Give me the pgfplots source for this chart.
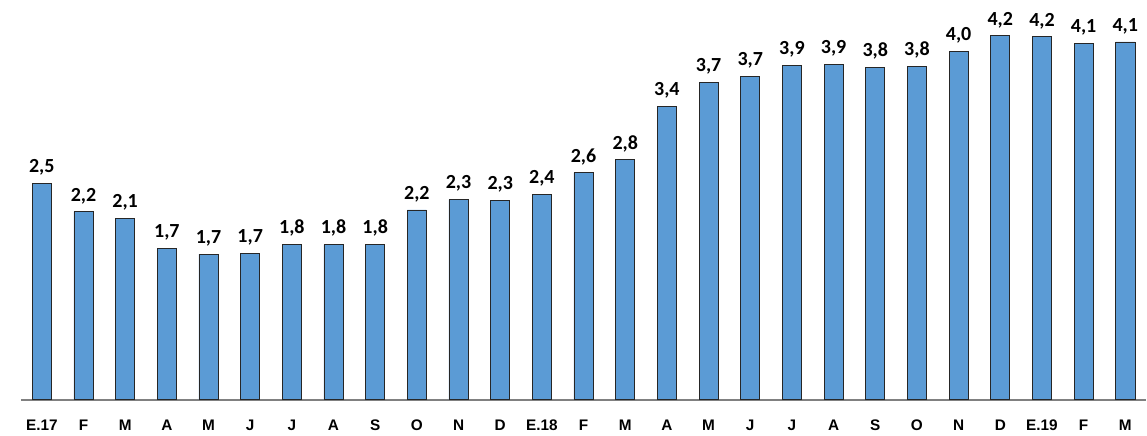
\documentclass[border=0pt]{standalone}
\usepackage{fontspec}
\setmainfont{Liberation Sans}
\newfontfamily\calibri{Carlito}
\usepackage{pgfplots}
\pgfplotsset{compat=1.18}
\definecolor{barblue}{HTML}{5B9BD5}
\begin{document}
\begin{tikzpicture}
\begin{axis}[
  name=ax,
  scale only axis,
  width=844.5pt, height=300pt,
  xmin=-0.5, xmax=26.5,
  ymin=0, ymax=4.614,
  hide y axis,
  axis x line=bottom,
  x axis line style={-, draw=gray, line width=1.3pt},
  xtick=data,
  xticklabels={E.17,F,M,A,M,J,J,A,S,O,N,D,E.18,F,M,A,M,J,J,A,S,O,N,D,E.19,F,M},
  xtick style={draw=none},
  xticklabel style={font=\fontsize{11.5}{13}\selectfont\bfseries, anchor=base, yshift=-19pt},
  clip=false,
  ybar,
  bar width=0.46,
  point meta=explicit symbolic,
  nodes near coords,
  every node near coord/.append style={font=\calibri\fontsize{15}{17}\selectfont\bfseries, anchor=base, yshift=8pt},
]
\addplot[fill=barblue, draw=black!85, line width=0.6pt] table[x=x, y=y, meta=l] {
x y l
0 2.50 2,5
1 2.17 2,2
2 2.09 2,1
3 1.75 1,7
4 1.68 1,7
5 1.69 1,7
6 1.79 1,8
7 1.79 1,8
8 1.79 1,8
9 2.19 2,2
10 2.31 2,3
11 2.30 2,3
12 2.37 2,4
13 2.62 2,6
14 2.77 2,8
15 3.39 3,4
16 3.66 3,7
17 3.73 3,7
18 3.86 3,9
19 3.87 3,9
20 3.84 3,8
21 3.85 3,8
22 4.02 4,0
23 4.20 4,2
24 4.19 4,2
25 4.11 4,1
26 4.13 4,1
};
\end{axis}
\path ([xshift=-15.75pt]ax.south west) rectangle ([xshift=-15.5pt]ax.north west);
\end{tikzpicture}
\end{document}
